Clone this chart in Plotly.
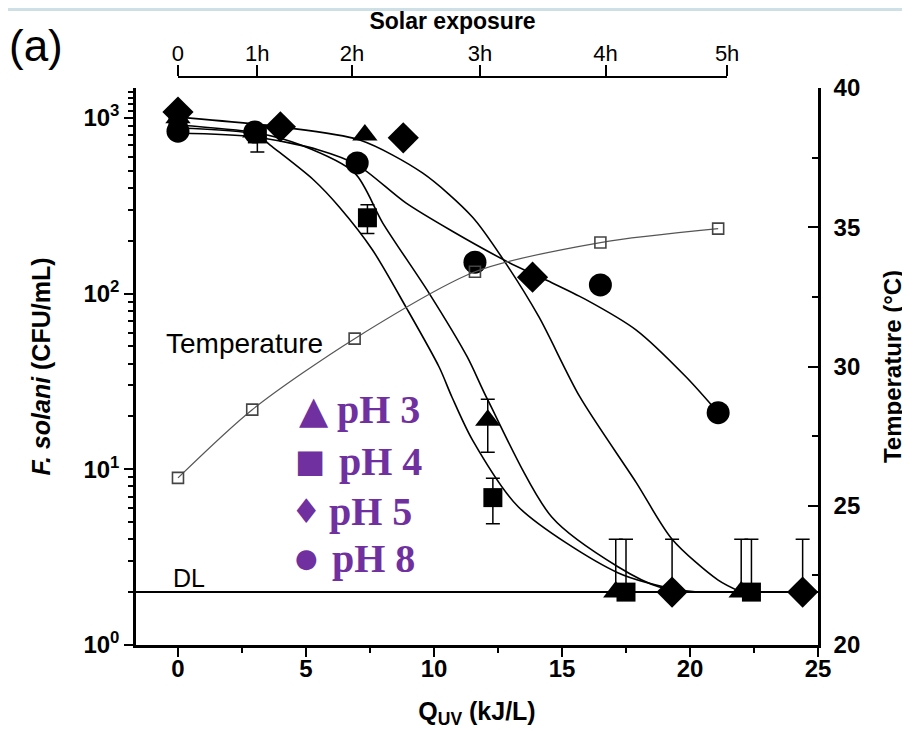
import plotly.graph_objects as go

# ---------------- data ----------------
q_ph3 = [0, 3.0, 7.3, 12.1, 17.1, 22.0]
cfu_ph3 = [1000, 830, 800, 19, 2, 2]
err_up_ph3 = [0, 0, 0, 6, 2, 2]
err_dn_ph3 = [0, 0, 0, 6.5, 0, 0]

q_ph4 = [0, 3.1, 7.4, 12.3, 17.5, 22.4]
cfu_ph4 = [930, 810, 270, 6.9, 2, 2]
err_up_ph4 = [0, 0, 50, 2, 2, 2]
err_dn_ph4 = [0, 170, 50, 2, 0, 0]

q_ph5 = [0, 4.0, 8.8, 13.85, 19.3, 24.4]
cfu_ph5 = [1080, 890, 770, 124, 2, 2]
err_up_ph5 = [0, 0, 0, 0, 2, 2]

q_ph8 = [0, 3.0, 7.0, 11.6, 16.5, 21.1]
cfu_ph8 = [840, 830, 554, 151, 112, 21]

q_temp = [0, 2.9, 6.9, 11.6, 16.5, 21.1]
temp_c = [26.0, 28.45, 31.0, 33.4, 34.45, 34.95]

# fitted curves, points
fit_ph3_q = [0, 3.1, 4.8, 6.9, 8.0, 9.8, 11.3, 12.1, 14.6, 17.2, 18.8, 20.5]
fit_ph3_cfu = [910, 820, 700, 486, 252, 101, 43.6, 24.8, 5.35, 2.78, 2.14, 2.0]
fit_ph4_q = [0, 3.1, 3.6, 5.3, 6.3, 7.6, 8.9, 10.2, 10.7, 11.5, 13.3, 17.2, 19.9]
fit_ph4_cfu = [876, 800, 700, 443, 311, 177, 84, 38.2, 25.8, 14.7, 6.1, 2.57, 2.0]
fit_ph5_q = [0, 4.0, 7.1, 9.55, 11.5, 12.8, 14.1, 15.7, 17.9, 19.3, 21.1, 22.0]
fit_ph5_cfu = [1010, 888, 748, 486, 273, 149, 73.6, 25.8, 8.4, 4.0, 2.34, 2.0]
fit_ph8_q = [0, 3.0, 5.5, 7.0, 8.9, 10.7, 12.9, 14.3, 15.9, 17.9, 19.85, 21.1]
fit_ph8_cfu = [820, 779, 657, 540, 328, 227, 151, 121, 93, 62, 33.5, 21]

detection_limit = 2

solar_labels = ["0", "1h", "2h", "3h", "4h", "5h"]
solar_q = [0, 3.1, 6.8, 11.8, 16.7, 21.45]

x_range = [-1.64, 25]
y_log_range = [0, 3.17]
t_range = [20, 40]

legend_symbols = ["\u25B2", "\u25A0", "\u2666", "\u25CF"]
legend_labels = ["pH 3", "pH 4", "pH 5", "pH 8"]

# ---------------- figure ----------------
FONT = "Arial, Liberation Sans, sans-serif"
fig = go.Figure()

curve_style = dict(color="black", width=1.6, shape="spline", smoothing=0.8)
for fq, fc in [(fit_ph3_q, fit_ph3_cfu), (fit_ph4_q, fit_ph4_cfu),
               (fit_ph5_q, fit_ph5_cfu), (fit_ph8_q, fit_ph8_cfu)]:
    fig.add_trace(go.Scatter(x=fq, y=fc, mode="lines", line=curve_style,
                             showlegend=False, hoverinfo="skip"))

# detection limit line across the full x range
fig.add_trace(go.Scatter(x=x_range, y=[detection_limit, detection_limit], mode="lines",
                         line=dict(color="black", width=2), showlegend=False, hoverinfo="skip"))

# temperature on right axis
fig.add_trace(go.Scatter(x=q_temp, y=temp_c, yaxis="y2", mode="lines+markers",
                         line=dict(color="#555555", width=1.2, shape="spline", smoothing=0.8),
                         marker=dict(symbol="square-open", size=11, color="#444444",
                                     line=dict(width=1.6)),
                         showlegend=False))

err_style = dict(type="data", symmetric=False, color="black", thickness=1.5, width=7)

fig.add_trace(go.Scatter(x=q_ph8, y=cfu_ph8, mode="markers",
                         marker=dict(symbol="circle", size=23, color="black"), name="pH 8"))
fig.add_trace(go.Scatter(x=q_ph5, y=cfu_ph5, mode="markers",
                         marker=dict(symbol="diamond", size=24, color="black"),
                         error_y=dict(array=err_up_ph5, arrayminus=[0] * len(q_ph5), **err_style),
                         name="pH 5"))
fig.add_trace(go.Scatter(x=q_ph4, y=cfu_ph4, mode="markers",
                         marker=dict(symbol="square", size=19, color="black"),
                         error_y=dict(array=err_up_ph4, arrayminus=err_dn_ph4, **err_style),
                         name="pH 4"))
fig.add_trace(go.Scatter(x=q_ph3, y=cfu_ph3, mode="markers",
                         marker=dict(symbol="triangle-up", size=22, color="black"),
                         error_y=dict(array=err_up_ph3, arrayminus=err_dn_ph3, **err_style),
                         name="pH 3"))

# invisible trace to anchor the top (solar exposure) axis
fig.add_trace(go.Scatter(x=solar_q, y=[None] * len(solar_q), xaxis="x2", yaxis="y",
                         mode="markers", marker=dict(opacity=0), showlegend=False,
                         hoverinfo="skip"))

# layout geometry (page pixels; the page body adds an 8px offset)
OFF = 8
W, H = 910, 731
PLOT_L, PLOT_R, PLOT_TOP_AXIS, PLOT_B = 136, 818, 77, 645
L = PLOT_L - OFF
T = PLOT_TOP_AXIS - OFF
R = W - (PLOT_R - OFF)
B = H - (PLOT_B - OFF)
plot_h = PLOT_B - PLOT_TOP_AXIS
plot_w = PLOT_R - PLOT_L
ydom_top = (PLOT_B - 88) / plot_h
span = x_range[1] - x_range[0]
x2dom = [(solar_q[0] - x_range[0]) / span, (solar_q[-1] - x_range[0]) / span]

minor_log = [m * 10 ** e for e in range(0, 3) for m in range(2, 10)] + [1100, 1200, 1300, 1400]

tickfont = dict(family=FONT, size=24, color="black", weight="bold")
titlefont = dict(family=FONT, size=25, color="black", weight="bold")

fig.update_layout(
    width=W, height=H,
    margin=dict(l=L, r=R, t=T, b=B, autoexpand=False),
    paper_bgcolor="white", plot_bgcolor="rgba(0,0,0,0)",
    showlegend=False,
    xaxis=dict(range=x_range, domain=[0, 1], tickvals=[0, 5, 10, 15, 20, 25], automargin=False,
               ticks="outside", ticklen=9, tickwidth=2, tickcolor="black", ticklabelstandoff=-9,
               showline=True, linecolor="black", linewidth=2.5, showgrid=False, zeroline=False,
               minor=dict(tickvals=[2.5, 7.5, 12.5, 17.5, 22.5], ticks="outside", ticklen=5,
                          tickwidth=1.5, tickcolor="black", showgrid=False),
               tickfont=tickfont,
               title=dict(text="Q<sub>UV</sub> (kJ/L)", font=titlefont, standoff=22)),
    xaxis2=dict(range=[solar_q[0], solar_q[-1]], domain=x2dom, anchor="free", position=1,
                side="top", tickvals=solar_q, ticktext=solar_labels, automargin=False,
                ticks="outside", ticklen=11, tickwidth=1.5, tickcolor="black",
                ticklabelstandoff=-5,
                showline=True, linecolor="black", linewidth=2, showgrid=False, zeroline=False,
                tickfont=dict(family=FONT, size=22, color="black"),
                title=dict(text="Solar exposure", font=dict(family=FONT, size=23, color="black",
                                                             weight="bold"), standoff=10)),
    yaxis=dict(type="log", range=y_log_range, domain=[0, ydom_top], automargin=False,
               tickvals=[1, 10, 100, 1000],
               ticktext=["10<sup>0</sup>", "10<sup>1</sup>", "10<sup>2</sup>", "10<sup>3</sup>"],
               ticks="outside", ticklen=9, tickwidth=2, tickcolor="black",
               showline=True, linecolor="black", linewidth=2.5, showgrid=False, zeroline=False,
               minor=dict(tickmode="array", tickvals=minor_log, ticks="outside", ticklen=5,
                          tickwidth=1.5, tickcolor="black", showgrid=False),
               tickfont=tickfont,
               title=dict(text="<i>F. solani</i> (CFU/mL)", font=titlefont, standoff=26)),
    yaxis2=dict(range=t_range, domain=[0, ydom_top], overlaying="y", side="right",
                automargin=False, ticklabelstandoff=8,
                tickvals=[20, 25, 30, 35, 40], ticks="inside", ticklen=10, tickwidth=2,
                tickcolor="black", showline=True, linecolor="black", linewidth=2.5,
                showgrid=False, zeroline=False,
                minor=dict(tickvals=[22.5, 27.5, 32.5, 37.5], ticks="inside", ticklen=6,
                           tickwidth=1.5, tickcolor="black", showgrid=False),
                tickfont=tickfont,
                title=dict(text="Temperature (\u00B0C)", font=dict(family=FONT, size=24,
                                                                   color="black", weight="bold"),
                           standoff=25)),
)


def px_to_paper(px, py):
    return (px - PLOT_L) / plot_w, (PLOT_B - py) / plot_h


annots = []
ax_, ay_ = px_to_paper(244, 343)
annots.append(dict(x=ax_, y=ay_, text="Temperature", font=dict(family=FONT, size=28, color="black")))
ax_, ay_ = px_to_paper(189, 578)
annots.append(dict(x=ax_, y=ay_, text="DL", font=dict(family=FONT, size=25, color="black")))
ax_, ay_ = px_to_paper(36, 45)
annots.append(dict(x=ax_, y=ay_, text="(a)", font=dict(family=FONT, size=44, color="black")))

legend_y = [410, 461, 511, 558]
sym_x = [314, 310, 306, 306]
sym_size = [38, 32, 34, 26]
label_x = [335, 337, 327, 330]
for sym, lab, ly, sx, ss, lx in zip(legend_symbols, legend_labels, legend_y, sym_x, sym_size, label_x):
    ax_, ay_ = px_to_paper(sx, ly)
    annots.append(dict(x=ax_, y=ay_, text=sym,
                       font=dict(family="DejaVu Sans", size=ss, color="#7030A0")))
    ax_, ay_ = px_to_paper(lx, ly)
    annots.append(dict(x=ax_, y=ay_, text=lab, xanchor="left",
                       font=dict(family="Liberation Serif, Times New Roman, serif", size=40,
                                 color="#7030A0", weight="bold")))

for a in annots:
    a.update(xref="paper", yref="paper", showarrow=False)
    a.setdefault("xanchor", "center")
    a["yanchor"] = "middle"
fig.update_layout(annotations=annots)

# light header band at the very top of the image
x0p, _ = px_to_paper(OFF, 0)
x1p, _ = px_to_paper(W + OFF, 0)
_, y0p = px_to_paper(0, 11)
_, y1p = px_to_paper(0, OFF)
fig.add_shape(type="rect", xref="paper", yref="paper", x0=x0p, x1=x1p, y0=y0p, y1=y1p,
              fillcolor="#cfdfe6", line=dict(width=0), layer="below")

fig.write_html("out.html")
